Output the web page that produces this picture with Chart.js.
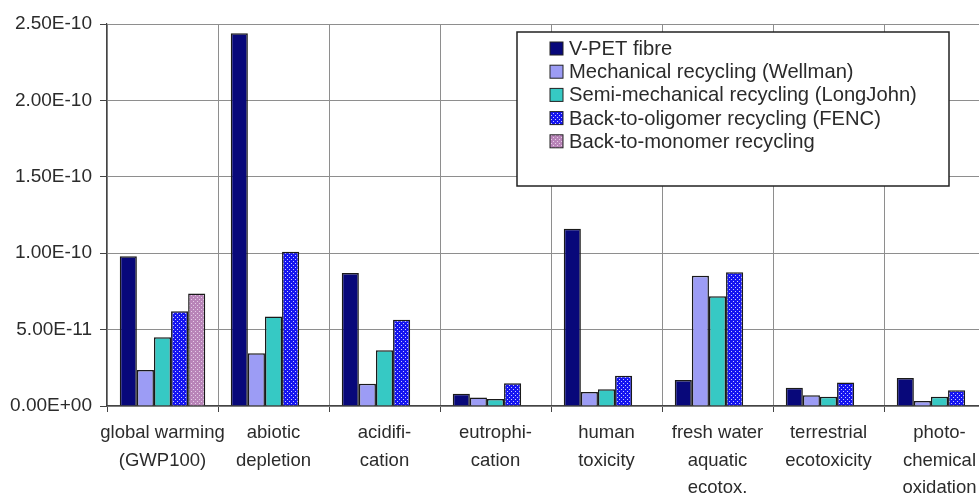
<!DOCTYPE html>
<html>
<head>
<meta charset="utf-8">
<script src="https://cdn.jsdelivr.net/npm/chart.js@4.4.1/dist/chart.umd.min.js"></script>
<style>
  html, body { margin: 0; padding: 0; background: #fff; overflow: hidden; }
  #wrap { width: 979px; height: 493px; overflow: hidden; }
</style>
</head>
<body>
<div id="wrap"><canvas id="lcaChart" width="995" height="493"></canvas></div>
<script>
// impact categories (x axis)
const categories = [
    ['global warming', '(GWP100)'],
    ['abiotic', 'depletion'],
    ['acidifi-', 'cation'],
    ['eutrophi-', 'cation'],
    ['human', 'toxicity'],
    ['fresh water', 'aquatic', 'ecotox.'],
    ['terrestrial', 'ecotoxicity'],
    ['photo-', 'chemical', 'oxidation']
];

const seriesNames = [
    'V-PET fibre',
    'Mechanical recycling (Wellman)',
    'Semi-mechanical recycling (LongJohn)',
    'Back-to-oligomer recycling (FENC)',
    'Back-to-monomer recycling'
];

// values
const vpet     = [9.8e-11, 2.44e-10, 8.7e-11, 0.8e-11, 1.16e-10, 1.7e-11, 1.2e-11, 1.83e-11];
const wellman  = [2.35e-11, 3.45e-11, 1.45e-11, 0.55e-11, 0.92e-11, 8.53e-11, 0.7e-11, 0.33e-11];
const longjohn = [4.5e-11, 5.85e-11, 3.65e-11, 0.46e-11, 1.1e-11, 7.18e-11, 0.61e-11, 0.61e-11];
const fenc     = [6.2e-11, 1.01e-10, 5.65e-11, 1.49e-11, 1.98e-11, 8.75e-11, 1.53e-11, 1.03e-11];
const monomer  = [7.37e-11, null, null, null, null, null, null, null];

const yTicksMax = 2.5e-10;
const yTicksStep = 5e-11;

const FONT = "'Liberation Sans', Arial, sans-serif";
const TEXT = '#2b2b2b';

// dotted fill like the old Excel pattern
function dots(base, dot) {
    const c = document.createElement('canvas');
    c.width = 4; c.height = 4;
    const g = c.getContext('2d');
    g.fillStyle = base;
    g.fillRect(0, 0, 4, 4);
    g.fillStyle = dot;
    g.fillRect(1, 1, 1, 1);
    g.fillRect(3, 3, 1, 1);
    return g.createPattern(c, 'repeat');
}

const fills = [
    '#08087a',
    '#9c9cf5',
    '#36c9c4',
    dots('#1515f0', '#c8c8ff'),
    dots('#b884b8', '#e6cce6')
];

function sci(v) {
    if (v === 0) return '0.00E+00';
    const parts = v.toExponential(2).split('e');
    const n = parseInt(parts[1], 10);
    return parts[0] + 'E' + (n < 0 ? '-' : '+') + String(Math.abs(n)).padStart(2, '0');
}

// legend box drawn inside the plot, as in the original
const boxLegend = {
    id: 'boxLegend',
    afterDraw(chart) {
        const ctx = chart.ctx;
        ctx.save();
        ctx.fillStyle = '#fff';
        ctx.fillRect(517, 32, 432, 154);
        ctx.strokeStyle = '#222';
        ctx.lineWidth = 1.5;
        ctx.strokeRect(517, 32, 432, 154);
        ctx.font = '20.2px ' + FONT;
        ctx.textBaseline = 'middle';
        chart.data.datasets.forEach((ds, i) => {
            const y = 48.5 + i * 23.2;
            ctx.fillStyle = ds.backgroundColor;
            ctx.fillRect(550, y - 6.5, 13, 13);
            ctx.strokeStyle = '#222';
            ctx.lineWidth = 1;
            ctx.strokeRect(550, y - 6.5, 13, 13);
            ctx.fillStyle = TEXT;
            ctx.fillText(ds.label, 569, y + 1);
        });
        ctx.restore();
    }
};

const seriesData = [vpet, wellman, longjohn, fenc, monomer];

new Chart(document.getElementById('lcaChart'), {
    type: 'bar',
    data: {
        labels: categories,
        datasets: seriesData.map((d, i) => ({
            label: seriesNames[i],
            data: d,
            backgroundColor: fills[i],
            borderColor: '#1a1a1a',
            borderWidth: 1.5,
            categoryPercentage: 0.77,
            barPercentage: 1.0
        }))
    },
    options: {
        responsive: false,
        animation: false,
        layout: { padding: { top: 24, left: 0, right: 0, bottom: 0 } },
        plugins: {
            legend: { display: false },
            tooltip: { enabled: false }
        },
        scales: {
            x: {
                grid: {
                    offset: true,
                    color: '#8e8e8e',
                    lineWidth: 1,
                    tickLength: 6,
                    tickColor: '#444'
                },
                border: { color: '#444', width: 1.2 },
                ticks: {
                    font: { family: FONT, size: 18.5, lineHeight: 1.5 },
                    color: TEXT,
                    padding: 7,
                    maxRotation: 0,
                    autoSkip: false
                },
                afterFit(scale) { scale.height = 87; }
            },
            y: {
                min: 0,
                max: yTicksMax,
                ticks: {
                    stepSize: yTicksStep,
                    font: { family: FONT, size: 19 },
                    color: TEXT,
                    padding: 8,
                    callback: v => sci(v)
                },
                grid: {
                    color: '#8e8e8e',
                    lineWidth: 1,
                    tickLength: 7,
                    tickColor: '#444'
                },
                border: { color: '#444', width: 1.2 },
                afterFit(scale) { scale.width = 107; }
            }
        }
    },
    plugins: [boxLegend]
});
</script>
</body>
</html>
